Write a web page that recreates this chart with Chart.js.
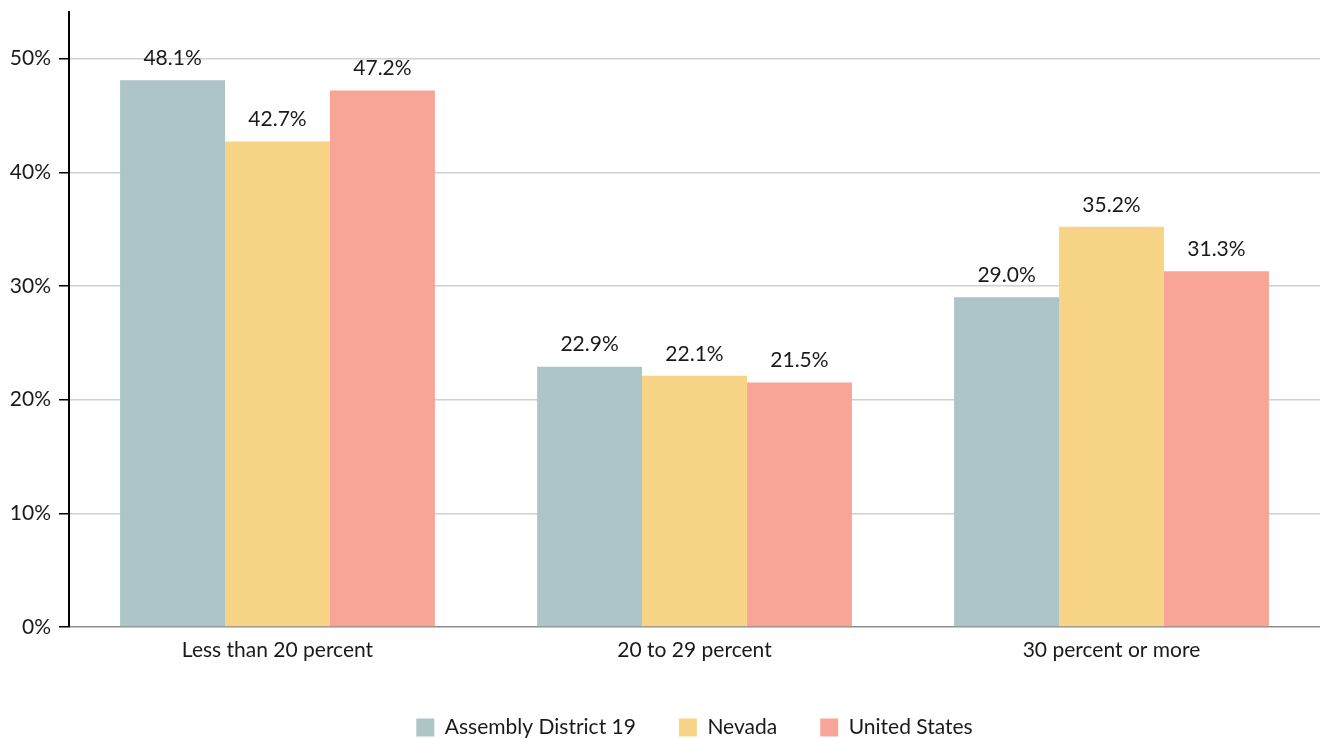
<!DOCTYPE html>
<html>
<head>
<meta charset="utf-8">
<script src="https://cdn.jsdelivr.net/npm/chart.js@4"></script>
<style>
  html, body { margin: 0; padding: 0; background: #ffffff; }
  #wrap { width: 1322px; height: 738px; }
</style>
</head>
<body>
<div id="wrap"><canvas id="chart"></canvas></div>
<script>
    // Categories and series values
    const categories = ['Less than 20 percent', '20 to 29 percent', '30 percent or more'];
    const seriesNames = ['Assembly District 19', 'Nevada', 'United States'];
    const district19 = [48.1, 22.9, 29.0];
    const nevada = [42.7, 22.1, 35.2];
    const unitedStates = [47.2, 21.5, 31.3];
    const yTicks = [0, 10, 20, 30, 40, 50];

    const colors = ['#adc5c6', '#f8d486', '#f8a497'];
    const fontFamily = 'Lato, "Noto Sans", sans-serif';
    const fontSize = 21;

    // Draw value labels above each bar
    const valueLabels = {
        id: 'valueLabels',
        afterDatasetsDraw(chart) {
            const ctx = chart.ctx;
            ctx.save();
            ctx.font = fontSize + 'px ' + fontFamily;
            ctx.fillStyle = '#1a1a1a';
            ctx.textAlign = 'center';
            ctx.textBaseline = 'middle';
            chart.data.datasets.forEach((ds, i) => {
                chart.getDatasetMeta(i).data.forEach((bar, j) => {
                    ctx.fillText(ds.data[j].toFixed(1) + '%', bar.x, bar.y - 22);
                });
            });
            ctx.restore();
        }
    };

    // Center the legend under the plot area rather than the canvas
    const legendUnderPlot = {
        id: 'legendUnderPlot',
        afterLayout(chart) {
            if (chart.legend) {
                chart.legend.left = chart.chartArea.left;
                chart.legend.right = chart.chartArea.right;
            }
        }
    };

    new Chart(document.getElementById('chart'), {
        type: 'bar',
        data: {
            labels: categories,
            datasets: [
                { label: seriesNames[0], data: district19, backgroundColor: colors[0] },
                { label: seriesNames[1], data: nevada, backgroundColor: colors[1] },
                { label: seriesNames[2], data: unitedStates, backgroundColor: colors[2] }
            ]
        },
        options: {
            responsive: true,
            maintainAspectRatio: false,
            animation: false,
            layout: { padding: { top: 12, right: 2, left: 0, bottom: -10 } },
            datasets: {
                bar: { categoryPercentage: 0.755, barPercentage: 1.0 }
            },
            scales: {
                x: {
                    grid: { display: false, drawTicks: false },
                    border: { display: false },
                    ticks: {
                        color: '#1a1a1a',
                        padding: 11,
                        font: { family: fontFamily, size: fontSize }
                    },
                    afterFit(scale) { scale.height = 47; }
                },
                y: {
                    min: 0,
                    max: 54.1,
                    afterBuildTicks(scale) {
                        scale.ticks = yTicks.map(v => ({ value: v }));
                    },
                    afterFit(scale) {
                        scale.width = 69;
                        scale.paddingTop = 0;
                        scale.paddingBottom = 0;
                    },
                    border: { display: true, color: '#000000', width: 2 },
                    grid: {
                        color: c => (c.tick && c.tick.value === 0) ? '#8c8c8c' : '#d0d0d0',
                        lineWidth: 1.5,
                        tickLength: 10,
                        tickColor: '#000000'
                    },
                    ticks: {
                        color: '#1a1a1a',
                        padding: 8,
                        font: { family: fontFamily, size: fontSize },
                        callback: v => v + '%'
                    }
                }
            },
            plugins: {
                legend: {
                    position: 'bottom',
                    labels: {
                        color: '#1a1a1a',
                        boxWidth: 18,
                        boxHeight: 18,
                        padding: 43,
                        font: { family: fontFamily, size: fontSize }
                    }
                },
                tooltip: { enabled: false }
            }
        },
        plugins: [valueLabels, legendUnderPlot]
    });
</script>
</body>
</html>
